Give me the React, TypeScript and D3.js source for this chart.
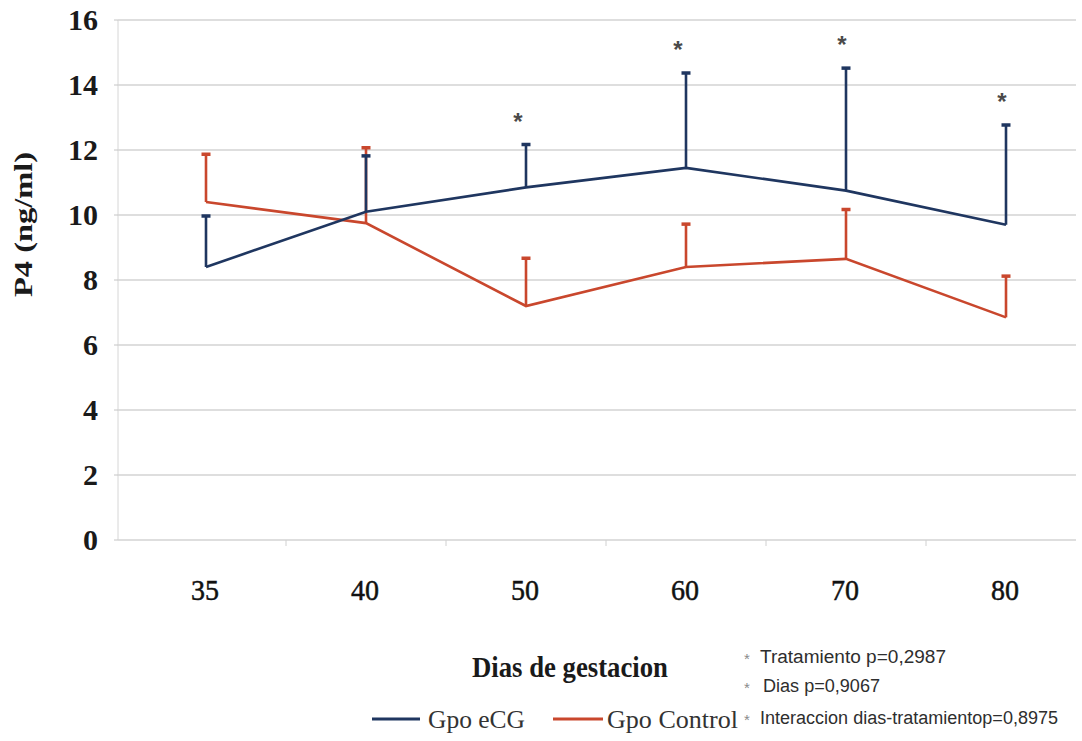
import React, { useEffect, useRef } from 'react';
import * as d3 from 'd3';

const days = ['35', '40', '50', '60', '70', '80'];
const ecgMean = [8.4, 10.1, 10.85, 11.45, 10.75, 9.7];
const ecgSd = [1.6, 1.75, 1.35, 2.95, 3.8, 3.1];
const ctrlMean = [10.4, 9.75, 7.2, 8.4, 8.65, 6.85];
const ctrlSd = [1.5, 2.35, 1.5, 1.35, 1.55, 1.3];
const yTicks = [0, 2, 4, 6, 8, 10, 12, 14, 16];
const signifDays = ['50', '60', '70', '80'];
const notes = ['Tratamiento  p=0,2987', 'Dias p=0,9067', 'Interaccion dias-tratamientop=0,8975'];

const BLUE = '#1f3660';
const RED = '#c9472d';

export default function App() {
  const svgRef = useRef<SVGSVGElement>(null);

  useEffect(() => {
    if (!svgRef.current) return;
    const width = 1082;
    const height = 741;
    const plotLeft = 118;
    const plotRight = 1076;

    const svg = d3.select(svgRef.current)
      .attr('width', width)
      .attr('height', height);
    svg.selectAll('*').remove();

    const x = d3.scalePoint<string>().domain(days).range([206, 1006]);
    const y = d3.scaleLinear().domain([0, 16]).range([540, 20]);

    // gridlines
    svg.append('g')
      .selectAll('line')
      .data(yTicks)
      .enter().append('line')
      .attr('x1', plotLeft)
      .attr('x2', plotRight)
      .attr('y1', d => y(d))
      .attr('y2', d => y(d))
      .attr('stroke', '#bdbdbd')
      .attr('stroke-width', 1.2);

    // left axis line + ticks
    svg.append('line')
      .attr('x1', plotLeft).attr('x2', plotLeft)
      .attr('y1', y(16)).attr('y2', y(0))
      .attr('stroke', '#d6d6d6').attr('stroke-width', 1);
    svg.append('g')
      .selectAll('line')
      .data(yTicks)
      .enter().append('line')
      .attr('x1', plotLeft - 4).attr('x2', plotLeft)
      .attr('y1', d => y(d)).attr('y2', d => y(d))
      .attr('stroke', '#c4c4c4');

    // category boundary ticks
    const step = x.step();
    svg.append('g')
      .selectAll('line')
      .data(days.slice(0, -1))
      .enter().append('line')
      .attr('x1', d => (x(d) as number) + step / 2)
      .attr('x2', d => (x(d) as number) + step / 2)
      .attr('y1', y(0)).attr('y2', y(0) + 6)
      .attr('stroke', '#d0d0d0');

    // y tick labels
    svg.append('g')
      .selectAll('text')
      .data(yTicks)
      .enter().append('text')
      .attr('x', 98)
      .attr('y', d => y(d) + 10)
      .attr('text-anchor', 'end')
      .style('font-family', '"Liberation Serif", serif')
      .style('font-size', '30px')
      .style('font-weight', 'bold')
      .attr('fill', '#1a1a1a')
      .text(d => d);

    // x tick labels
    svg.append('g')
      .selectAll('text')
      .data(days)
      .enter().append('text')
      .attr('x', d => (x(d) as number) - 1)
      .attr('y', 600)
      .attr('text-anchor', 'middle')
      .style('font-family', '"Liberation Serif", serif')
      .style('font-size', '30px')
      .attr('fill', '#111')
      .attr('stroke', '#111')
      .attr('stroke-width', 0.5)
      .attr('textLength', 28)
      .attr('lengthAdjust', 'spacingAndGlyphs')
      .text(d => d);

    // axis titles
    svg.append('text')
      .attr('x', 472)
      .attr('y', 677)
      .style('font-family', '"Liberation Serif", serif')
      .style('font-size', '29px')
      .style('font-weight', 'bold')
      .attr('fill', '#1a1a1a')
      .attr('textLength', 196)
      .attr('lengthAdjust', 'spacingAndGlyphs')
      .text('Dias de gestacion');

    svg.append('text')
      .attr('transform', 'translate(32,297) rotate(-90)')
      .style('font-family', '"Liberation Serif", serif')
      .style('font-size', '25px')
      .style('font-weight', 'bold')
      .attr('fill', '#1a1a1a')
      .attr('textLength', 145)
      .attr('lengthAdjust', 'spacingAndGlyphs')
      .text('P4 (ng/ml)');

    const series = [
      { mean: ctrlMean, sd: ctrlSd, color: RED },
      { mean: ecgMean, sd: ecgSd, color: BLUE }
    ];

    const line = d3.line<number>()
      .x((_, i) => x(days[i]) as number)
      .y(d => y(d));

    series.forEach(s => {
      const g = svg.append('g');
      // error bars (upper only)
      g.selectAll('.err')
        .data(s.mean)
        .enter().append('line')
        .attr('x1', (_, i) => x(days[i]) as number)
        .attr('x2', (_, i) => x(days[i]) as number)
        .attr('y1', d => y(d))
        .attr('y2', (d, i) => y(d + s.sd[i]))
        .attr('stroke', s.color)
        .attr('stroke-width', 2.6);
      g.selectAll('.cap')
        .data(s.mean)
        .enter().append('line')
        .attr('x1', (_, i) => (x(days[i]) as number) - 4.5)
        .attr('x2', (_, i) => (x(days[i]) as number) + 4.5)
        .attr('y1', (d, i) => y(d + s.sd[i]) + 1)
        .attr('y2', (d, i) => y(d + s.sd[i]) + 1)
        .attr('stroke', s.color)
        .attr('stroke-width', 3.5);
      g.append('path')
        .datum(s.mean)
        .attr('fill', 'none')
        .attr('stroke', s.color)
        .attr('stroke-width', 2.6)
        .attr('stroke-linejoin', 'miter')
        .attr('d', line);
    });

    // significance stars
    svg.append('g')
      .selectAll('text')
      .data(signifDays)
      .enter().append('text')
      .attr('x', d => (x(d) as number) - (d === '50' || d === '60' ? 8 : 4))
      .attr('y', d => {
        const i = days.indexOf(d);
        return y(ecgMean[i] + ecgSd[i]) - 14;
      })
      .attr('text-anchor', 'middle')
      .style('font-family', '"Liberation Sans", sans-serif')
      .style('font-size', '24px')
      .style('font-weight', 'bold')
      .attr('fill', '#4a4a4a')
      .text('*');

    // legend
    const legend = [
      { label: 'Gpo eCG', color: BLUE, x0: 372, x1: 420, tx: 428, tl: 97 },
      { label: 'Gpo Control', color: RED, x0: 553, x1: 603, tx: 607, tl: 131 }
    ];
    legend.forEach(l => {
      svg.append('line')
        .attr('x1', l.x0).attr('x2', l.x1)
        .attr('y1', 719).attr('y2', 719)
        .attr('stroke', l.color)
        .attr('stroke-width', 3);
      svg.append('text')
        .attr('x', l.tx)
        .attr('y', 728)
        .style('font-family', '"Liberation Serif", serif')
        .style('font-size', '25px')
        .attr('fill', '#333')
        .attr('textLength', l.tl)
        .attr('lengthAdjust', 'spacingAndGlyphs')
        .text(l.label);
    });

    // statistics notes
    const noteY = [663, 692, 724];
    const noteX = [760, 763, 760];
    const noteLen = [186, 117, 298];
    notes.forEach((n, i) => {
      svg.append('text')
        .attr('x', 744)
        .attr('y', noteY[i] + 1)
        .style('font-family', '"Liberation Sans", sans-serif')
        .style('font-size', '15px')
        .attr('fill', '#8a8a8a')
        .text('*');
      svg.append('text')
        .attr('x', noteX[i])
        .attr('y', noteY[i])
        .style('font-family', '"Liberation Sans", sans-serif')
        .style('font-size', '18px')
        .attr('fill', '#2e2e2e')
        .attr('textLength', noteLen[i])
        .attr('lengthAdjust', 'spacingAndGlyphs')
        .text(n);
    });
  }, []);

  return (
    <div style={{ position: 'absolute', left: 0, top: 0, background: '#fff' }}>
      <svg ref={svgRef} style={{ display: 'block' }}></svg>
    </div>
  );
}
